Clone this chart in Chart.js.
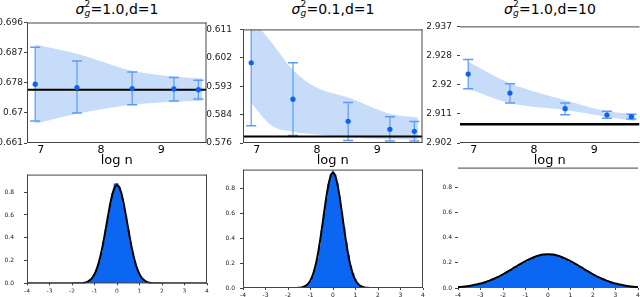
<!DOCTYPE html>
<html>
<head>
<meta charset="utf-8">
<script src="https://cdn.jsdelivr.net/npm/chart.js@4"></script>
<style>
  html, body { margin: 0; padding: 0; background: #fff; }
  body { width: 640px; height: 297px; position: relative; overflow: hidden; font-family: 'DejaVu Sans', sans-serif; }
  .box { position: absolute; }
  .ttl { position: absolute; top: 1px; width: 180px; text-align: center; font-size: 14px; line-height: 16px; color: #000; white-space: nowrap; }
  .ttl i { font-style: italic; }
  .ss { display: inline-block; position: relative; width: 6px; height: 10px; }
  .ss .up { position: absolute; left: 0; top: -4px; font-size: 9px; line-height: 9px; }
  .ss .dn { position: absolute; left: 0; top: 5px; font-size: 9px; line-height: 9px; font-style: italic; }
</style>
</head>
<body>
<div class="ttl" style="left:27px"><i>σ</i><span class="ss"><span class="up">2</span><span class="dn">g</span></span>=1.0,d=1</div>
<div class="ttl" style="left:243px"><i>σ</i><span class="ss"><span class="up">2</span><span class="dn">g</span></span>=0.1,d=1</div>
<div class="ttl" style="left:460px"><i>σ</i><span class="ss"><span class="up">2</span><span class="dn">g</span></span>=1.0,d=10</div>

<div class="box" id="b1"><canvas id="c1"></canvas></div>
<div class="box" id="b2"><canvas id="c2"></canvas></div>
<div class="box" id="b3"><canvas id="c3"></canvas></div>
<div class="box" id="b4"><canvas id="c4"></canvas></div>
<div class="box" id="b5"><canvas id="c5"></canvas></div>
<div class="box" id="b6"><canvas id="c6"></canvas></div>

<script>
// ---- top row: estimates vs log n ----
const logN = [6.908, 7.601, 8.517, 9.210, 9.616];
const xTicksTop = [7, 8, 9];

// sigma_g^2 = 1.0, d = 1
const meanA = [0.6781, 0.6771, 0.6768, 0.6767, 0.6765];
const loA   = [0.6674, 0.6697, 0.6721, 0.6732, 0.6738];
const hiA   = [0.6888, 0.6848, 0.6816, 0.6800, 0.6792];
const bandXA   = [6.908, 7.601, 8.517, 9.210, 9.680];
const bandUpA  = [0.6896, 0.6869, 0.6820, 0.6803, 0.6797];
const bandLowA = [0.6666, 0.6695, 0.6721, 0.6730, 0.6733];
const truthA = 0.6765;
const yTicksA  = [0.661, 0.66975, 0.6785, 0.68725, 0.696];
const yLabelsA = ['0.661', '0.67', '0.678', '0.687', '0.696'];

// sigma_g^2 = 0.1, d = 1
const meanB = [0.6007, 0.5895, 0.5827, 0.5802, 0.5796];
const loB   = [0.5813, 0.5783, 0.5768, 0.5766, 0.5766];
const hiB   = [0.6201, 0.6007, 0.5885, 0.5841, 0.5826];
const bandXB   = [6.908, 7.25, 7.601, 8.0, 8.517, 9.210, 9.680];
const bandUpB  = [0.6145, 0.6069, 0.5985, 0.5930, 0.5900, 0.5850, 0.5838];
const bandLowB = [0.5883, 0.5813, 0.5795, 0.5786, 0.5778, 0.5772, 0.5770];
const truthB = 0.5780;
const yTicksB  = [0.576, 0.58475, 0.5935, 0.60225, 0.611];
const yLabelsB = ['0.576', '0.584', '0.593', '0.602', '0.611'];

// sigma_g^2 = 1.0, d = 10
const meanC = [2.9227, 2.9170, 2.9123, 2.9104, 2.9099];
const loC   = [2.9183, 2.9140, 2.9105, 2.9094, 2.9092];
const hiC   = [2.9271, 2.9198, 2.9140, 2.9115, 2.9106];
const bandXC   = [6.908, 7.601, 8.517, 9.210, 9.680];
const bandUpC  = [2.9264, 2.9199, 2.9148, 2.9115, 2.9106];
const bandLowC = [2.9183, 2.9140, 2.9119, 2.9099, 2.9086];
const truthC = 2.9076;
const yTicksC  = [2.902, 2.91075, 2.9195, 2.92825, 2.937];
const yLabelsC = ['2.902', '2.911', '2.92', '2.928', '2.937'];

// ---- bottom row: histograms with fitted density ----
const xTicksBot = [-4, -3, -2, -1, 0, 1, 2, 3, 4];
const yTicksBot = [0, 0.2, 0.4, 0.6, 0.8];
const yLabelsBot = ['0.0', '0.2', '0.4', '0.6', '0.8'];

// bins of 0.1 from -1.6 to 1.6 (panels 1, 2)
const histA = [0.002, 0.005, 0.009, 0.015, 0.030, 0.050, 0.083, 0.125, 0.188, 0.268, 0.372, 0.475, 0.588, 0.700, 0.790, 0.875, 0.880,
               0.850, 0.780, 0.690, 0.595, 0.480, 0.365, 0.270, 0.192, 0.128, 0.080, 0.050, 0.028, 0.016, 0.008, 0.004, 0.002];
const histB = [0.000, 0.001, 0.003, 0.007, 0.015, 0.030, 0.055, 0.095, 0.155, 0.240, 0.340, 0.465, 0.600, 0.725, 0.840, 0.920, 0.945,
               0.915, 0.845, 0.740, 0.615, 0.490, 0.370, 0.265, 0.180, 0.118, 0.072, 0.042, 0.024, 0.013, 0.007, 0.004, 0.002];
// curve sampled at -4, -2, -1.8, then -1.6..1.6 by 0.1, then 1.8, 2, 4
const curveXAB = [-4, -2, -1.8, -1.6, -1.5, -1.4, -1.3, -1.2, -1.1, -1.0, -0.9, -0.8, -0.7, -0.6, -0.5, -0.4, -0.3, -0.2, -0.1, 0,
                  0.1, 0.2, 0.3, 0.4, 0.5, 0.6, 0.7, 0.8, 0.9, 1.0, 1.1, 1.2, 1.3, 1.4, 1.5, 1.6, 1.8, 2, 4];
const curveA = [0, 0, 0.001, 0.002, 0.004, 0.008, 0.016, 0.029, 0.049, 0.081, 0.127, 0.190, 0.271, 0.369, 0.478, 0.591, 0.698, 0.785, 0.843, 0.863,
                0.843, 0.785, 0.698, 0.591, 0.478, 0.369, 0.271, 0.190, 0.127, 0.081, 0.049, 0.029, 0.016, 0.008, 0.004, 0.002, 0.001, 0, 0];
const curveB = [0, 0, 0, 0.001, 0.002, 0.005, 0.010, 0.019, 0.035, 0.062, 0.104, 0.165, 0.247, 0.351, 0.472, 0.602, 0.728, 0.833, 0.903, 0.928,
                0.903, 0.833, 0.728, 0.602, 0.472, 0.351, 0.247, 0.165, 0.104, 0.062, 0.035, 0.019, 0.010, 0.005, 0.002, 0.001, 0, 0, 0];
// bins of 0.2 from -4 to 4 (panel 3)
const histC = [0.006, 0.009, 0.013, 0.019, 0.026, 0.034, 0.044, 0.057, 0.071, 0.088, 0.106, 0.127, 0.148, 0.170, 0.190, 0.210, 0.229, 0.244, 0.256, 0.262, 0.265,
               0.263, 0.255, 0.243, 0.228, 0.210, 0.190, 0.170, 0.148, 0.127, 0.106, 0.088, 0.071, 0.057, 0.045, 0.034, 0.026, 0.019, 0.013, 0.009, 0.006];
const curveC = [0.007, 0.010, 0.014, 0.020, 0.027, 0.035, 0.046, 0.058, 0.073, 0.090, 0.108, 0.129, 0.150, 0.172, 0.193, 0.213, 0.231, 0.246, 0.258, 0.265, 0.267,
                0.265, 0.258, 0.246, 0.231, 0.213, 0.193, 0.172, 0.150, 0.129, 0.108, 0.090, 0.073, 0.058, 0.046, 0.035, 0.027, 0.020, 0.014, 0.010, 0.007];

// ---- style ----
const FONT = "'DejaVu Sans', sans-serif";
const BAND = 'rgba(160, 196, 245, 0.6)';
const ERR = '#5b9cf2';
const PT = '#0f62f0';
const HIST = '#0b66f2';
const FRAME = '#444';
const X_MIN = 6.772, X_MAX = 9.751;
const YW = 40;

function grid(start, step, n) {
  const out = [];
  for (let i = 0; i < n; i++) out.push(+(start + i * step).toFixed(3));
  return out;
}
function pts(xs, ys) { return xs.map((x, i) => ({ x: x, y: ys[i] })); }

const framePlugin = {
  id: 'frame',
  afterDatasetsDraw(chart, args, opts) {
    const a = chart.chartArea, ctx = chart.ctx, s = opts.sides || 'tblr';
    ctx.save();
    ctx.strokeStyle = opts.color || FRAME;
    ctx.lineWidth = 1;
    ctx.beginPath();
    if (s.includes('t')) { ctx.moveTo(a.left, a.top + 0.5); ctx.lineTo(a.right, a.top + 0.5); }
    if (s.includes('b')) { ctx.moveTo(a.left, a.bottom - 0.5); ctx.lineTo(a.right, a.bottom - 0.5); }
    if (s.includes('l')) { ctx.moveTo(a.left + 0.5, a.top); ctx.lineTo(a.left + 0.5, a.bottom); }
    if (s.includes('r')) { ctx.moveTo(a.right - 0.5, a.top); ctx.lineTo(a.right - 0.5, a.bottom); }
    ctx.stroke();
    ctx.restore();
  }
};
Chart.register(framePlugin);

function place(boxId, left, top, w, h) {
  const b = document.getElementById(boxId);
  b.style.left = left + 'px'; b.style.top = top + 'px';
  b.style.width = w + 'px'; b.style.height = h + 'px';
}

function yAxis(ticks, labels, max, size, pad) {
  return {
    type: 'linear', min: ticks[0], max: max,
    afterBuildTicks: s => { s.ticks = ticks.map(v => ({ value: v })); },
    afterFit: s => { s.width = YW; },
    ticks: { callback: (v, i) => labels[i], font: { size: size, family: FONT }, color: '#222', padding: pad, autoSkip: false },
    grid: { display: true, drawOnChartArea: false, drawTicks: true, tickLength: 3, color: '#444' },
    border: { display: false }
  };
}

function topChart(canvasId, boxId, L, o) {
  place(boxId, L - YW, 16, YW + 186, 153);
  const ds = [];
  ds.push({ data: pts(o.bandX, o.bandUp), borderWidth: 0, pointRadius: 0, fill: '+1', backgroundColor: BAND, cubicInterpolationMode: 'monotone', order: 5 });
  ds.push({ data: pts(o.bandX, o.bandLow), borderWidth: 0, pointRadius: 0, fill: false, cubicInterpolationMode: 'monotone', order: 5 });
  logN.forEach((x, i) => {
    ds.push({ data: [{ x: x, y: o.lo[i] }, { x: x, y: o.hi[i] }], borderColor: ERR, borderWidth: 1.2, pointRadius: 0, fill: false, order: 4 });
  });
  ds.push({ data: pts(logN, o.lo).concat(pts(logN, o.hi)), showLine: false, pointStyle: 'line', pointRadius: 5,
            pointBorderColor: ERR, pointBorderWidth: 1.5, borderColor: ERR, order: 4 });
  ds.push({ data: [{ x: X_MIN, y: o.truth }, { x: X_MAX, y: o.truth }], borderColor: '#000', borderWidth: o.truthW, pointRadius: 0, fill: false, order: 2 });
  ds.push({ data: pts(logN, o.mean), showLine: false, pointRadius: 2.6, pointBackgroundColor: PT, pointBorderWidth: 0, order: 1 });

  return new Chart(document.getElementById(canvasId), {
    type: 'line',
    data: { datasets: ds },
    options: {
      responsive: true, maintainAspectRatio: false, animation: false, events: [],
      layout: { padding: { top: 6, right: 6, left: 0, bottom: 0 } },
      scales: {
        x: {
          type: 'linear', min: X_MIN, max: X_MAX,
          afterBuildTicks: s => { s.ticks = xTicksTop.map(v => ({ value: v })); },
          afterFit: s => { s.height = 26; },
          ticks: { font: { size: 11, family: FONT }, color: '#000', padding: -7, autoSkip: false, maxRotation: 0 },
          grid: { display: false },
          border: { display: false },
          title: { display: true, text: 'log n', font: { size: 13, family: FONT }, color: '#000', padding: { top: 0, bottom: 1 } }
        },
        y: yAxis(o.yTicks, o.yLabels, o.yTicks[4], 9, o.yPad)
      },
      plugins: { legend: { display: false }, tooltip: { enabled: false }, frame: { sides: o.sides } }
    }
  });
}

function histChart(canvasId, boxId, L, o) {
  place(boxId, L - YW, 161, YW + 186, 136);
  return new Chart(document.getElementById(canvasId), {
    type: 'line',
    data: {
      datasets: [
        { data: pts(o.histX, o.hist), stepped: 'middle', fill: 'origin', backgroundColor: HIST, borderWidth: 0, pointRadius: 0, order: 2 },
        { data: pts(o.curveX, o.curve), borderColor: '#000', borderWidth: 2, pointRadius: 0, fill: false, cubicInterpolationMode: 'monotone', order: 1 }
      ]
    },
    options: {
      responsive: true, maintainAspectRatio: false, animation: false, events: [],
      layout: { padding: { top: 6, right: 6, left: 0, bottom: 0 } },
      scales: {
        x: {
          type: 'linear', min: -4, max: 4,
          afterBuildTicks: s => { s.ticks = xTicksBot.map(v => ({ value: v })); },
          afterFit: s => { s.height = 9; },
          ticks: { font: { size: 6, family: FONT }, color: '#222', padding: 2, autoSkip: false, maxRotation: 0 },
          grid: { display: true, drawOnChartArea: false, drawTicks: true, tickLength: 2, color: '#444' },
          border: { display: false }
        },
        y: yAxis(yTicksBot, yLabelsBot, 0.954, 6, o.yPad)
      },
      plugins: { legend: { display: false }, tooltip: { enabled: false }, frame: { sides: o.sides } }
    }
  });
}

topChart('c1', 'b1', 27,  { mean: meanA, lo: loA, hi: hiA, bandX: bandXA, bandUp: bandUpA, bandLow: bandLowA, truth: truthA, truthW: 2,
                            yTicks: yTicksA, yLabels: yLabelsA, yPad: 1, sides: 'tblr' });
topChart('c2', 'b2', 243, { mean: meanB, lo: loB, hi: hiB, bandX: bandXB, bandUp: bandUpB, bandLow: bandLowB, truth: truthB, truthW: 2,
                            yTicks: yTicksB, yLabels: yLabelsB, yPad: 8, sides: 'tblr' });
topChart('c3', 'b3', 460, { mean: meanC, lo: loC, hi: hiC, bandX: bandXC, bandUp: bandUpC, bandLow: bandLowC, truth: truthC, truthW: 2.5,
                            yTicks: yTicksC, yLabels: yLabelsC, yPad: 5, sides: 'tb' });

histChart('c4', 'b4', 27,  { histX: grid(-1.6, 0.1, 33), hist: histA, curveX: curveXAB, curve: curveA, yPad: 10, sides: 'tblr' });
histChart('c5', 'b5', 243, { histX: grid(-1.6, 0.1, 33), hist: histB, curveX: curveXAB, curve: curveB, yPad: 5, sides: 'tblr' });
histChart('c6', 'b6', 458, { histX: grid(-4, 0.2, 41), hist: histC, curveX: grid(-4, 0.2, 41), curve: curveC, yPad: 3, sides: 't' });
</script>
</body>
</html>
